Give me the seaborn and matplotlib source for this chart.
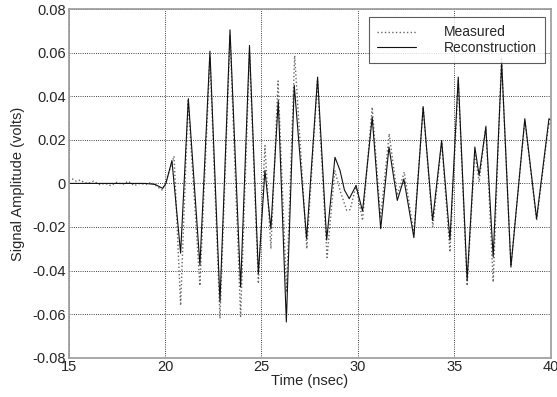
import numpy as np
import pandas as pd
import seaborn as sns
import matplotlib
matplotlib.use("Agg")
import matplotlib.pyplot as plt

# values (turning points of each trace)
rec_time = [15.0, 16.0, 17.0, 18.0, 19.0, 19.5, 19.88, 20.05, 20.36, 20.81, 21.21, 21.81,
            22.33, 22.85, 23.37, 23.92, 24.38, 24.84, 25.18, 25.49, 25.87, 26.29, 26.70,
            27.34, 27.91, 28.38, 28.81, 29.07, 29.3, 29.55, 29.90, 30.24, 30.74, 31.18,
            31.61, 32.04, 32.38, 32.90, 33.38, 33.87, 34.34, 34.77, 35.20, 35.66, 36.06,
            36.28, 36.63, 37.01, 37.45, 37.93, 38.65, 39.26, 39.90, 40.0]
rec_volts = [0.0, 0.0, 0.0, 0.0, 0.0, -0.0005, -0.0023, 0.0, 0.0105, -0.032, 0.0389, -0.0376,
             0.0607, -0.0544, 0.0705, -0.0476, 0.0633, -0.0414, 0.006, -0.0208, 0.038, -0.0636,
             0.045, -0.0254, 0.0488, -0.026, 0.012, 0.006, -0.003, -0.007, -0.001, -0.0127,
             0.0304, -0.0208, 0.0167, -0.0078, 0.002, -0.0249, 0.0353, -0.017, 0.0197, -0.026,
             0.0488, -0.0445, 0.0167, 0.0037, 0.0258, -0.0338, 0.0557, -0.0384, 0.0297,
             -0.0162, 0.0297, 0.029]

meas_time = [15.0, 15.2, 15.4, 15.6, 15.8, 16.0, 16.3, 16.6, 16.9, 17.2, 17.5, 17.8, 18.1,
             18.4, 18.7, 19.0, 19.3, 19.6, 19.85, 20.05, 20.47, 20.81, 21.2, 21.81, 22.33,
             22.85, 23.37, 23.92, 24.38, 24.84, 25.18, 25.49, 25.86, 26.3, 26.72, 27.35,
             27.9, 28.4, 28.8, 29.1, 29.42, 29.6, 29.9, 30.24, 30.74, 31.17, 31.62, 32.04,
             32.4, 32.9, 33.38, 33.88, 34.34, 34.77, 35.2, 35.66, 36.06, 36.28, 36.63, 37.01,
             37.44, 37.93, 38.65, 39.26, 39.9, 40.0]
meas_volts = [0.0015, 0.002, 0.001, 0.0015, 0.0005, 0.0, 0.001, -0.0005, 0.0, -0.001, 0.0005,
              -0.0005, 0.001, -0.001, 0.0, -0.0005, 0.0005, -0.0015, -0.003, 0.001, 0.0125,
              -0.056, 0.038, -0.047, 0.058, -0.062, 0.068, -0.061, 0.060, -0.046, 0.0174,
              -0.030, 0.047, -0.050, 0.0587, -0.030, 0.047, -0.034, 0.006, -0.004, -0.0124,
              -0.012, -0.001, -0.017, 0.035, -0.016, 0.0228, -0.0055, 0.0052, -0.023, 0.035,
              -0.020, 0.019, -0.0315, 0.047, -0.047, 0.0144, 0.0006, 0.0266, -0.0453, 0.0572,
              -0.038, 0.029, -0.017, 0.028, 0.027]

x_ticks = [15, 20, 25, 30, 35, 40]
y_ticks = [-0.08, -0.06, -0.04, -0.02, 0, 0.02, 0.04, 0.06, 0.08]
y_labels = ["-0.08", "-0.06", "-0.04", "-0.02", "0", "0.02", "0.04", "0.06", "0.08"]

sns.set_style("white")
plt.rcParams['font.family'] = ['Liberation Sans', 'DejaVu Sans']
plt.rcParams['font.size'] = 10.5

fig = plt.figure(figsize=(5.57, 3.97), dpi=100)
ax = fig.add_axes([0.123, 0.099, 0.866, 0.878])

sns.lineplot(x=meas_time, y=meas_volts, ax=ax, color="#666666", linestyle=":",
             linewidth=1.0, label="Measured", sort=False, estimator=None)
sns.lineplot(x=rec_time, y=rec_volts, ax=ax, color="#111111", linestyle="-",
             linewidth=0.8, label="Reconstruction", sort=False, estimator=None)

ax.set_xlim(15, 40)
ax.set_ylim(-0.08, 0.08)
ax.set_xticks(x_ticks)
ax.set_yticks(y_ticks)
ax.set_yticklabels(y_labels)
ax.grid(True, color="black", linestyle=":", linewidth=0.6)
ax.tick_params(axis="both", length=0, pad=2, labelsize=10.5)
for sp in ax.spines.values():
    sp.set_color("#9a9a9a")
    sp.set_linewidth(1.2)

ax.set_xlabel("Time (nsec)", fontsize=10.5, labelpad=0)
ax.set_ylabel("Signal Amplitude (volts)", fontsize=10.5, labelpad=5)

leg = ax.legend(loc="upper right", bbox_to_anchor=(0.988, 0.977), frameon=True,
                fancybox=False, handlelength=2.8, handletextpad=2.0, borderpad=0.6,
                labelspacing=0.1, fontsize=10, borderaxespad=0)
leg.get_frame().set_edgecolor("#333333")
leg.get_frame().set_linewidth(0.8)

fig.savefig("out.png", dpi=100)
